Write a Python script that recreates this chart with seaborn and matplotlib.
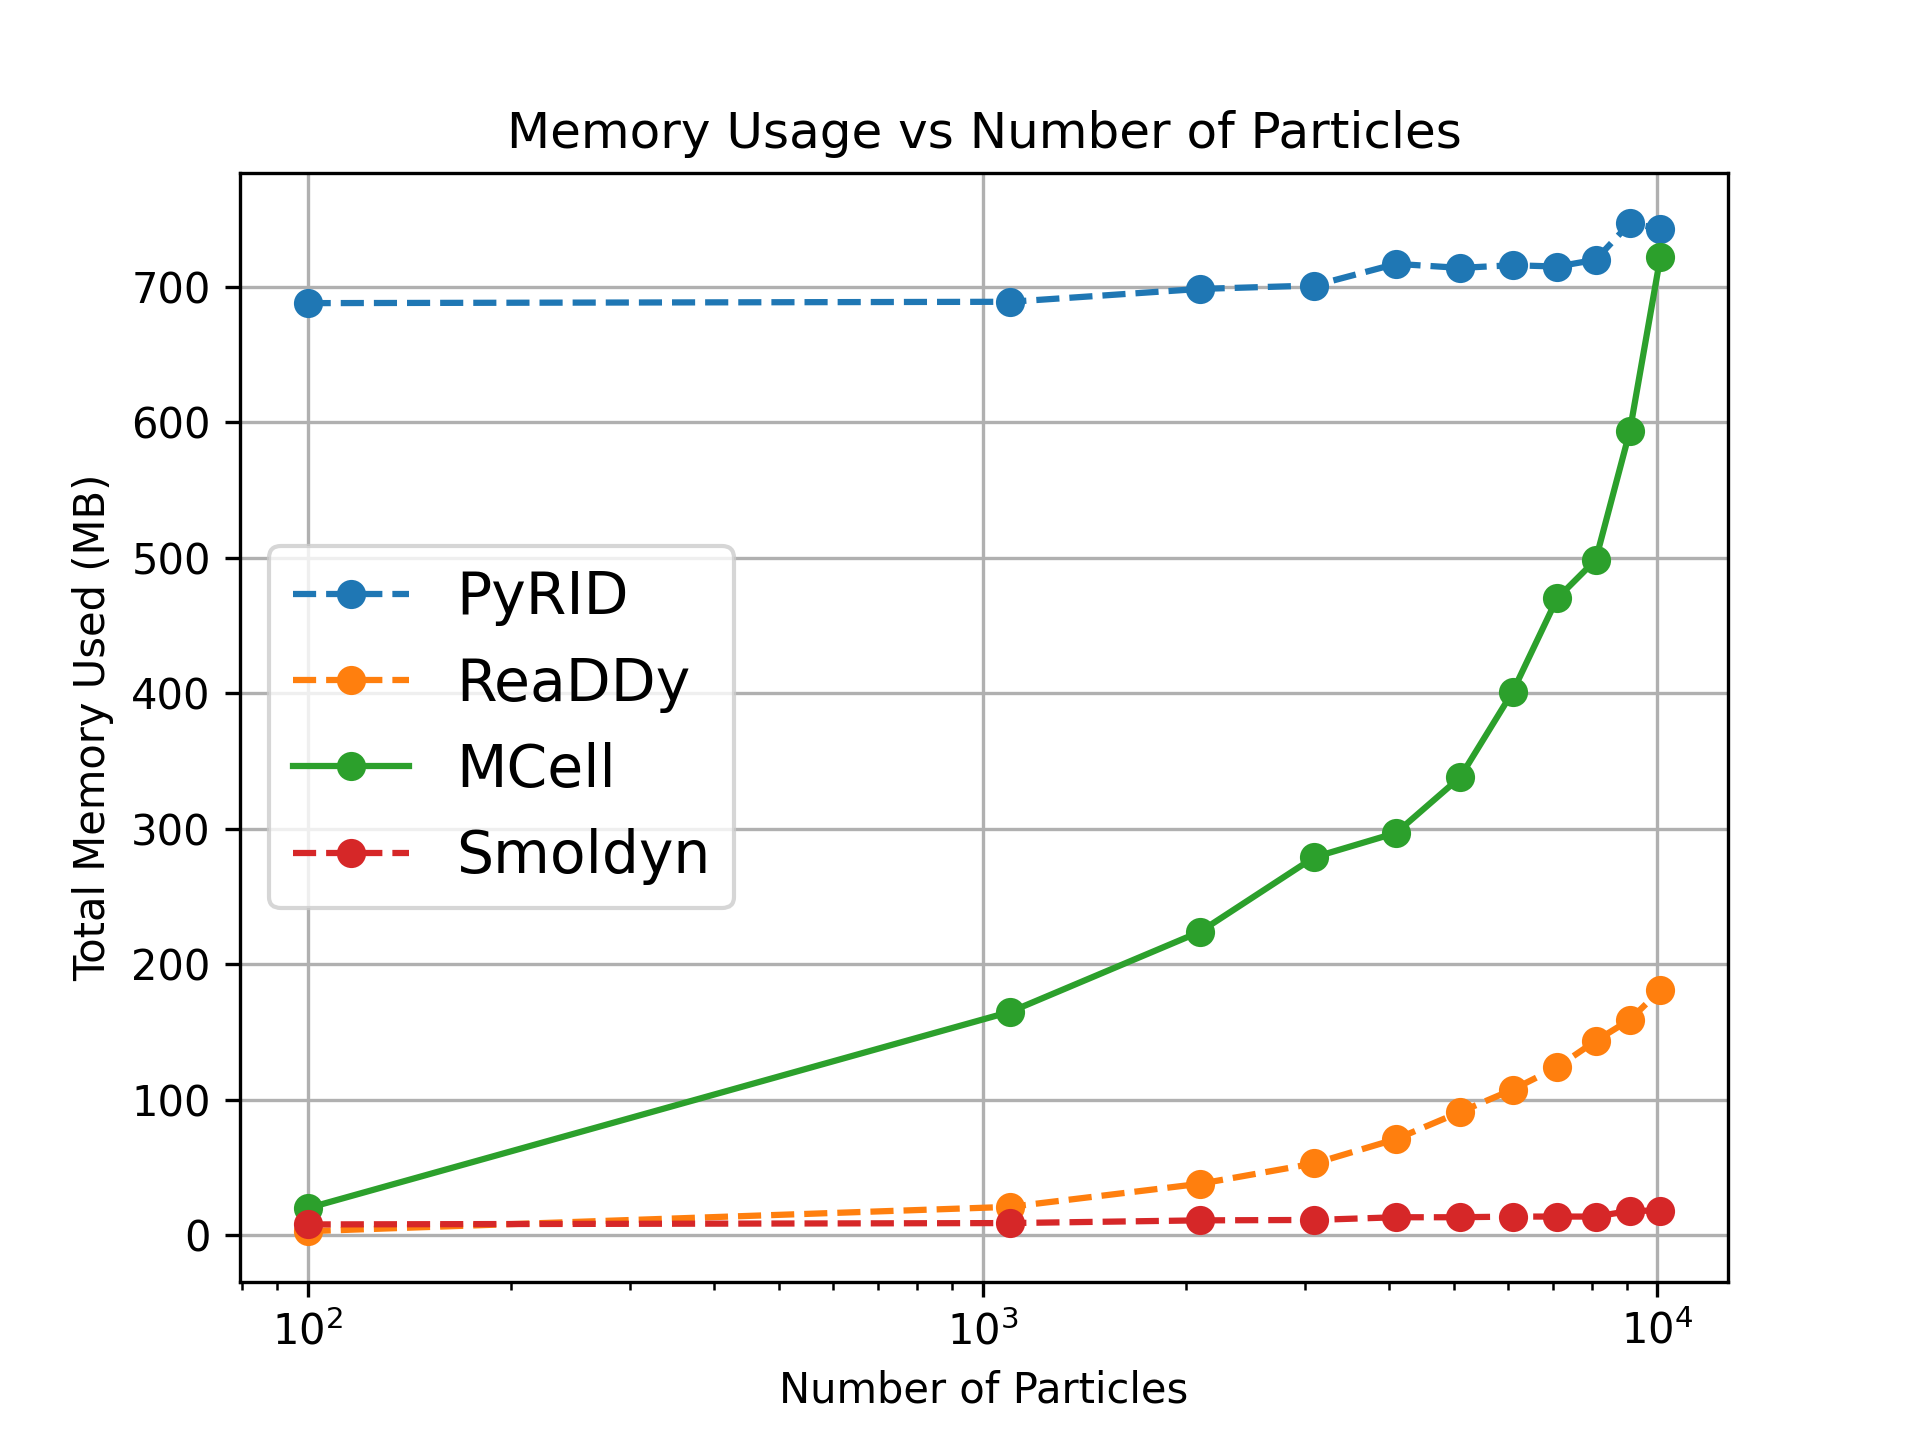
import pandas as pd
import seaborn as sns
import matplotlib
matplotlib.use("Agg")
import matplotlib.pyplot as plt

# 粒子數
particles = [100, 1100, 2100, 3100, 4100, 5100, 6100, 7100, 8100, 9100, 10100]
# 各模擬器記憶體用量 (MB)
pyrid = [688, 689, 698.5, 701, 717, 714, 716, 715, 720, 747, 743]
readdy = [3, 21, 38, 53, 71, 91, 107.5, 124, 143.5, 159, 181]
mcell = [20, 165, 224, 279, 297, 338, 401, 470, 498.5, 593.5, 722]
smoldyn = [8, 9, 11, 11.3, 13.3, 13.3, 13.8, 13.8, 13.8, 18, 18.2]

names = ["PyRID", "ReaDDy", "MCell", "Smoldyn"]
series = [pyrid, readdy, mcell, smoldyn]
styles = ["--", "--", "-", "--"]
colors = ["#1f77b4", "#ff7f0e", "#2ca02c", "#d62728"]

fig, ax = plt.subplots(figsize=(6.4, 4.8), dpi=300)

for name, vals, ls, c in zip(names, series, styles, colors):
    df = pd.DataFrame({"n": particles, "mem": vals})
    sns.lineplot(data=df, x="n", y="mem", ax=ax, label=name, color=c,
                 linestyle=ls, marker="o", markersize=7, markeredgewidth=0,
                 linewidth=1.5)

ax.set_xscale("log")
ax.set_title("Memory Usage vs Number of Particles")
ax.set_xlabel("Number of Particles")
ax.set_ylabel("Total Memory Used (MB)")
ax.grid(True)
ax.legend(loc="center left", fontsize=14)

fig.savefig("out.png", dpi=300)
